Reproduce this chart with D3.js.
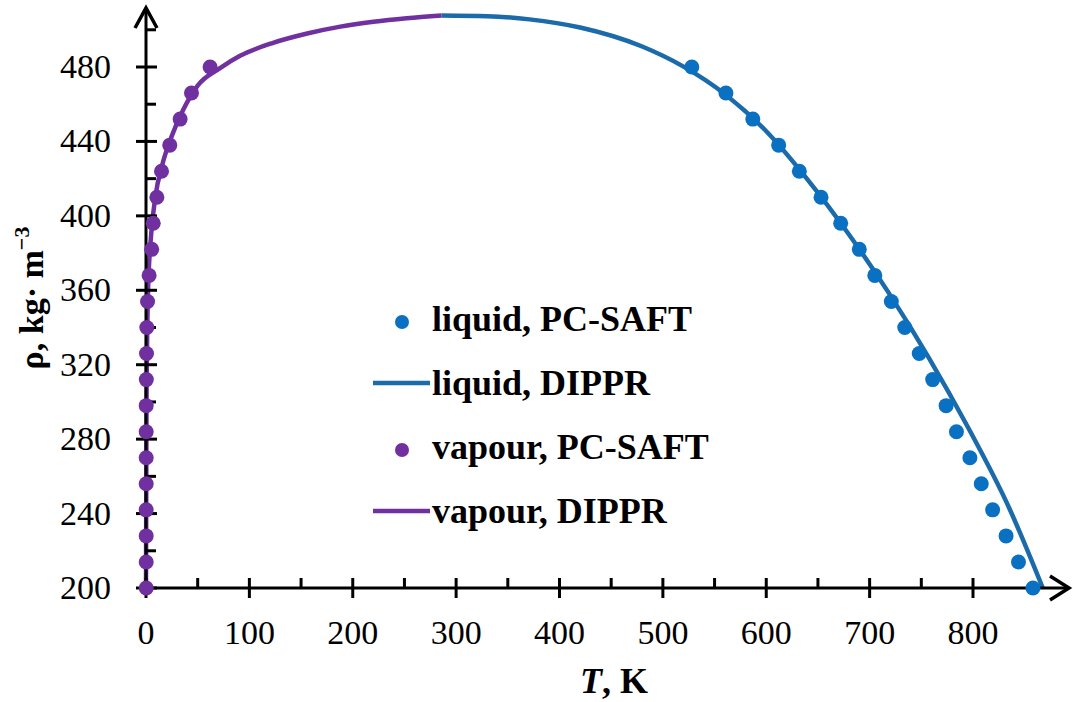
<!DOCTYPE html>
<html>
<head>
<meta charset="utf-8">
<script src="https://cdn.jsdelivr.net/npm/d3@7"></script>
<style>
  html, body { margin: 0; padding: 0; background: #fff; }
  svg { display: block; }
</style>
</head>
<body>
<svg id="chart" width="1073" height="702"></svg>
<script>
// ---- data ----
const xTicks = [0, 100, 200, 300, 400, 500, 600, 700, 800];
const xMinor = [50, 150, 250, 350, 450, 550, 650, 750];
const yTicks = [200, 240, 280, 320, 360, 400, 440, 480];
const yMinor = [220, 260, 300, 340, 380, 420, 460, 500];

const dotRho = [480, 466, 452, 438, 424, 410, 396, 382, 368, 354, 340, 326, 312, 298, 284, 270, 256, 242, 228, 214, 200];
const liquidDotT = [528, 561, 587, 612, 632, 653, 672, 690, 705, 721, 734, 748, 761, 774, 784, 797, 808, 819, 832, 844, 858];
const vapourDotT = [62, 44, 33, 23, 15, 10.5, 7, 5.5, 3, 1.5, 0.8, 0.5, 0.3, 0.2, 0.2, 0.2, 0.2, 0.2, 0.2, 0.2, 0.2];

const liquidLineT   = [286, 330, 371, 420, 480, 520, 561, 600, 640, 680, 718, 757, 795, 835, 867.5];
const liquidLineRho = [507.7, 507.3, 505.6, 501.2, 491, 480.2, 465, 445.5, 419.5, 390, 359, 324, 286.5, 243, 200];
const vapourLineT   = [0, 0.5, 2, 5, 9, 16, 25, 36, 50, 72, 91, 123, 156, 188, 220, 252, 286];
const vapourLineRho = [200, 300, 360, 390, 410, 428, 443, 457, 470, 479.5, 486, 493, 498, 501.7, 504.3, 506.2, 507.7];

const legendLabels = ["liquid, PC-SAFT", "liquid, DIPPR", "vapour, PC-SAFT", "vapour, DIPPR"];

// ---- styles ----
const blueDot = "#0a70c2";
const blueLine = "#1b6aa9";
const purple = "#7030a0";
const serif = "'Liberation Serif', 'Times New Roman', serif";

const svg = d3.select("#chart");
const x = d3.scaleLinear().domain([0, 800]).range([146, 973]);
const y = d3.scaleLinear().domain([200, 480]).range([588, 67]);

const line = d3.line().x(d => x(d[0])).y(d => y(d[1])).curve(d3.curveMonotoneX);

// lines
svg.append("path")
  .attr("d", line(vapourLineT.map((t, i) => [t, vapourLineRho[i]])))
  .attr("fill", "none").attr("stroke", purple).attr("stroke-width", 4.5).attr("stroke-linecap", "butt");
svg.append("path")
  .attr("d", line(liquidLineT.map((t, i) => [t, liquidLineRho[i]])))
  .attr("fill", "none").attr("stroke", blueLine).attr("stroke-width", 4.5).attr("stroke-linecap", "butt");

// axes
const axisG = svg.append("g").attr("stroke", "#000").attr("stroke-width", 3);
const x0 = x(0), y0 = y(200);
axisG.append("line").attr("x1", x0).attr("x2", 1068).attr("y1", y0).attr("y2", y0);
axisG.append("line").attr("x1", x0).attr("x2", x0).attr("y1", y0).attr("y2", 9);
// arrowheads
svg.append("path").attr("d", `M1050,${y0 - 12} L1069,${y0} L1050,${y0 + 12}`)
  .attr("fill", "none").attr("stroke", "#000").attr("stroke-width", 3.5);
svg.append("path").attr("d", `M${x0 - 11},28 L${x0},8 L${x0 + 11},28`)
  .attr("fill", "none").attr("stroke", "#000").attr("stroke-width", 3.5);

// ticks
xTicks.forEach(t => {
  axisG.append("line").attr("x1", x(t)).attr("x2", x(t)).attr("y1", y0 - 10).attr("y2", y0 + 10);
});
xMinor.forEach(t => {
  axisG.append("line").attr("x1", x(t)).attr("x2", x(t)).attr("y1", y0 - 10).attr("y2", y0);
});
yTicks.forEach(v => {
  axisG.append("line").attr("x1", x0 - 10).attr("x2", x0 + 11).attr("y1", y(v)).attr("y2", y(v));
});
yMinor.forEach(v => {
  axisG.append("line").attr("x1", x0).attr("x2", x0 + 10).attr("y1", y(v)).attr("y2", y(v));
});

// tick labels
svg.append("g").selectAll("text").data(xTicks).join("text")
  .attr("x", d => x(d)).attr("y", 644)
  .attr("text-anchor", "middle")
  .attr("font-family", serif).attr("font-size", 34).attr("fill", "#000")
  .text(d => d);
svg.append("g").selectAll("text").data(yTicks).join("text")
  .attr("x", 111).attr("y", d => y(d) + 11)
  .attr("text-anchor", "end")
  .attr("font-family", serif).attr("font-size", 34).attr("fill", "#000")
  .text(d => d);

// dots
svg.append("g").selectAll("circle").data(dotRho).join("circle")
  .attr("cx", (d, i) => x(vapourDotT[i])).attr("cy", d => y(d)).attr("r", 7.5)
  .attr("fill", purple);
svg.append("g").selectAll("circle").data(dotRho).join("circle")
  .attr("cx", (d, i) => x(liquidDotT[i])).attr("cy", d => y(d)).attr("r", 7.5)
  .attr("fill", blueDot);

// axis titles
const xt = svg.append("text").attr("x", 614).attr("y", 693).attr("text-anchor", "middle")
  .attr("font-family", serif).attr("font-size", 36).attr("font-weight", "bold").attr("fill", "#000");
xt.append("tspan").attr("font-style", "italic").text("T");
xt.append("tspan").text(", K");

const yt = svg.append("text").attr("transform", "translate(43,298) rotate(-90)").attr("text-anchor", "middle")
  .attr("font-family", serif).attr("font-size", 34).attr("font-weight", "bold").attr("fill", "#000");
yt.append("tspan").text("ρ, kg· m");
yt.append("tspan").attr("font-size", 22).attr("dy", -14).text("−3");

// legend
const legBase = [331, 395, 459, 523];
const legend = svg.append("g");
legendLabels.forEach((lab, i) => {
  const by = legBase[i];
  const col = i < 2 ? (i === 0 ? blueDot : blueLine) : purple;
  if (i % 2 === 0) {
    legend.append("circle").attr("cx", 402).attr("cy", by - 9).attr("r", 7).attr("fill", col);
  } else {
    legend.append("line").attr("x1", 373).attr("x2", 430).attr("y1", by - 12).attr("y2", by - 12)
      .attr("stroke", col).attr("stroke-width", 4.5);
  }
  legend.append("text").attr("x", 432).attr("y", by)
    .attr("font-family", serif).attr("font-size", 36).attr("font-weight", "bold").attr("fill", "#000")
    .text(lab);
});
</script>
</body>
</html>
